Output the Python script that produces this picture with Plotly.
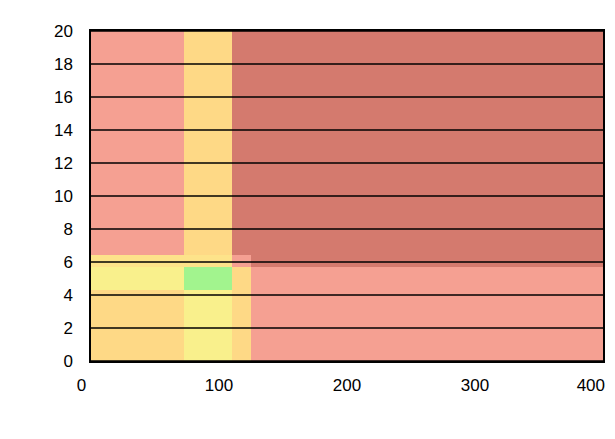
import plotly.graph_objects as go

# Zone boundaries (bin edges)
x_edges = [0, 73, 110, 125, 400]
y_edges = [0, 4.3, 5.7, 6.4, 20]

# Zone colour index per cell, rows bottom -> top, columns left -> right
zones = [
    [2, 3, 2, 0],
    [3, 4, 2, 0],
    [5, 5, 0, 1],
    [0, 2, 1, 1],
]

zone_colors = ["#f5a092", "#d47a6e", "#fed986", "#f9f08c", "#a2f48e", "#fde38a"]

x_ticks = [0, 100, 200, 300, 400]
x_tick_labels = ["0", "100", "200", "300", "400"]
y_ticks = [0, 2, 4, 6, 8, 10, 12, 14, 16, 18, 20]

n = len(zone_colors)
colorscale = []
for i, c in enumerate(zone_colors):
    colorscale.append([i / n, c])
    colorscale.append([(i + 1) / n, c])

fig = go.Figure(go.Heatmap(
    x=x_edges, y=y_edges, z=zones,
    zmin=-0.5, zmax=n - 0.5,
    colorscale=colorscale, showscale=False, hoverinfo="skip",
))
# empty trace so the overlaying axis that carries the last tick label is drawn
fig.add_trace(go.Scatter(x=[], y=[], xaxis="x2", yaxis="y", showlegend=False,
                         hoverinfo="skip"))

for yv in y_ticks:
    fig.add_shape(type="line", xref="paper", x0=0, x1=1, yref="y", y0=yv, y1=yv,
                  line=dict(color="black", width=1.5), layer="above")

# first label nudged outward-left like the reference (padding with no-break spaces)
nb = "\u00a0"
main_vals = x_ticks[:-1]
main_text = [x_tick_labels[0] + nb * 4] + x_tick_labels[1:-1]

fig.update_layout(
    width=599, height=420,
    margin=dict(l=83, r=4, t=23, b=67),
    paper_bgcolor="white", plot_bgcolor="white",
    font=dict(family="Liberation Sans, Arial, sans-serif", size=17, color="black"),
    showlegend=False,
    xaxis=dict(range=[0, 400], tickvals=main_vals, ticktext=main_text,
               showgrid=False, zeroline=False,
               showline=True, linecolor="black", linewidth=1.5, mirror=True,
               layer="above traces", ticks="", ticklabelstandoff=8,
               ticklabeloverflow="allow", automargin=False),
    xaxis2=dict(overlaying="x", matches="x", anchor="y", side="bottom",
                range=[0, 400], tickvals=[x_ticks[-1]], ticktext=[x_tick_labels[-1]],
                ticklabelposition="outside left", ticklabelshift=2,
                showgrid=False, zeroline=False, showline=False, ticks="",
                ticklabelstandoff=12, automargin=False),
    yaxis=dict(range=[0, 20], tickvals=y_ticks, showgrid=False, zeroline=False,
               showline=True, linecolor="black", linewidth=1.5, mirror=True,
               layer="above traces", ticks="", ticklabelstandoff=13,
               automargin=False),
)

fig.write_html("out.html")
